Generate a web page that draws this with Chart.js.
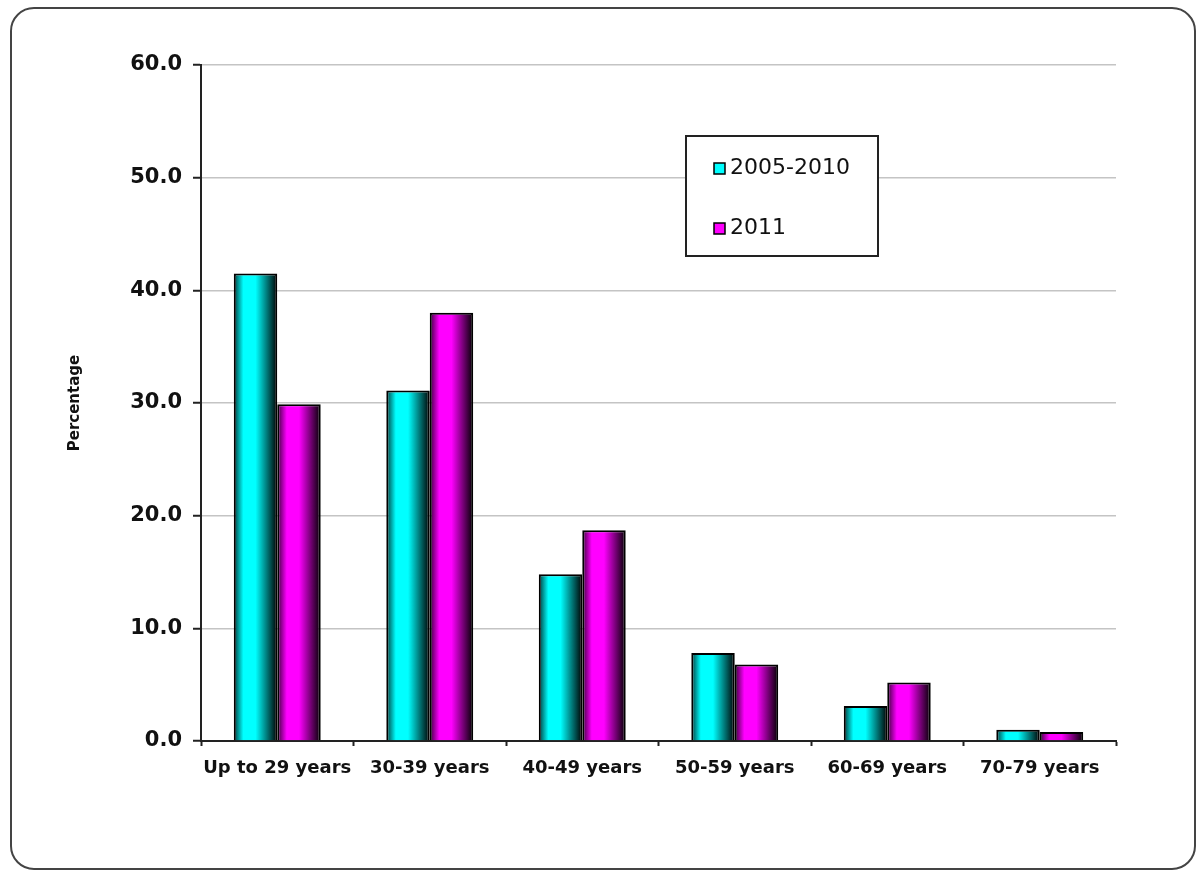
<!DOCTYPE html>
<html>
<head>
<meta charset="utf-8">
<script src="https://cdn.jsdelivr.net/npm/chart.js@4/dist/chart.umd.min.js"></script>
<style>
    body { margin: 0; background: #fff; }
    #wrap { position: relative; width: 1199px; height: 871px; }
    #frame {
        position: absolute; left: 10px; top: 7px; width: 1186px; height: 863px;
        box-sizing: border-box; border: 2px solid #444; border-radius: 24px;
        pointer-events: none;
    }
</style>
</head>
<body>
<div id="wrap">
    <canvas id="ageChart" width="1199" height="871"></canvas>
    <div id="frame"></div>
</div>
<script>
// Données
const categories = ["Up to 29 years", "30-39 years", "40-49 years", "50-59 years", "60-69 years", "70-79 years"];
const serie2005 = [41.5, 31.1, 14.8, 7.8, 3.1, 1.0];
const serie2011 = [29.9, 38.0, 18.7, 6.8, 5.2, 0.8];
const seriesLabels = ["2005-2010", "2011"];
const seriesColors = ["#00ffff", "#ff00ff"];
const darkColors = ["#003838", "#380038"];

// Dégradé "cylindre" pour chaque barre
const barShading = {
    id: "barShading",
    beforeDatasetsDraw(chart) {
        const ctx = chart.ctx;
        chart.data.datasets.forEach((ds, di) => {
            chart.getDatasetMeta(di).data.forEach(bar => {
                const x0 = bar.x - bar.width / 2;
                const g = ctx.createLinearGradient(x0, 0, x0 + bar.width, 0);
                g.addColorStop(0, darkColors[di]);
                g.addColorStop(0.22, seriesColors[di]);
                g.addColorStop(0.5, seriesColors[di]);
                g.addColorStop(1, "#000000");
                bar.options.backgroundColor = g;
            });
        });
    }
};

// Légende dans un cadre
const boxLegend = {
    id: "boxLegend",
    afterDraw(chart) {
        const ctx = chart.ctx;
        ctx.save();
        ctx.lineWidth = 2;
        ctx.strokeStyle = "#222";
        ctx.fillStyle = "#fff";
        ctx.fillRect(686, 136, 192, 120);
        ctx.strokeRect(686, 136, 192, 120);
        ctx.font = "22px 'DejaVu Sans'";
        ctx.textBaseline = "middle";
        chart.data.datasets.forEach((ds, i) => {
            const y = 168 + i * 60;
            ctx.fillStyle = seriesColors[i];
            ctx.fillRect(714, y - 5, 11, 11);
            ctx.lineWidth = 1.5;
            ctx.strokeStyle = "#000";
            ctx.strokeRect(714, y - 5, 11, 11);
            ctx.fillStyle = "#111";
            ctx.fillText(ds.label, 730, y);
        });
        ctx.restore();
    }
};

const ctx = document.getElementById("ageChart").getContext("2d");
new Chart(ctx, {
    type: "bar",
    data: {
        labels: categories,
        datasets: [
            { label: seriesLabels[0], data: serie2005, backgroundColor: c => seriesColors[c.datasetIndex] },
            { label: seriesLabels[1], data: serie2011, backgroundColor: c => seriesColors[c.datasetIndex] }
        ]
    },
    options: {
        responsive: false,
        animation: false,
        devicePixelRatio: 1,
        layout: { padding: { top: 65, right: 83, left: 0, bottom: 0 } },
        datasets: {
            bar: {
                categoryPercentage: 0.57,
                barPercentage: 1,
                borderColor: "#000",
                borderWidth: 2,
                borderSkipped: "bottom"
            }
        },
        plugins: {
            legend: { display: false },
            tooltip: { enabled: false }
        },
        scales: {
            x: {
                afterFit: s => { s.height = 130; },
                border: { color: "#222", width: 2 },
                grid: { offset: true, drawOnChartArea: false, tickLength: 5, tickColor: "#222", tickWidth: 2 },
                ticks: {
                    color: "#111",
                    padding: 12,
                    maxRotation: 0,
                    autoSkip: false,
                    font: { family: "'DejaVu Sans'", size: 18, weight: "bold" }
                }
            },
            y: {
                min: 0,
                max: 60,
                afterFit: s => { s.width = 201; },
                border: { color: "#222", width: 2 },
                grid: { color: "#c4c4c4", lineWidth: 1.5, tickLength: 8, tickColor: "#222", tickWidth: 2 },
                ticks: {
                    stepSize: 10,
                    color: "#111",
                    padding: 11,
                    font: { family: "'DejaVu Sans'", size: 21, weight: "bold" },
                    callback: v => v.toFixed(1)
                },
                title: {
                    display: true,
                    text: "Percentage",
                    color: "#111",
                    padding: { top: 66, bottom: 0 },
                    font: { family: "'DejaVu Sans'", size: 15, weight: "bold" }
                }
            }
        }
    },
    plugins: [barShading, boxLegend]
});
</script>
</body>
</html>
